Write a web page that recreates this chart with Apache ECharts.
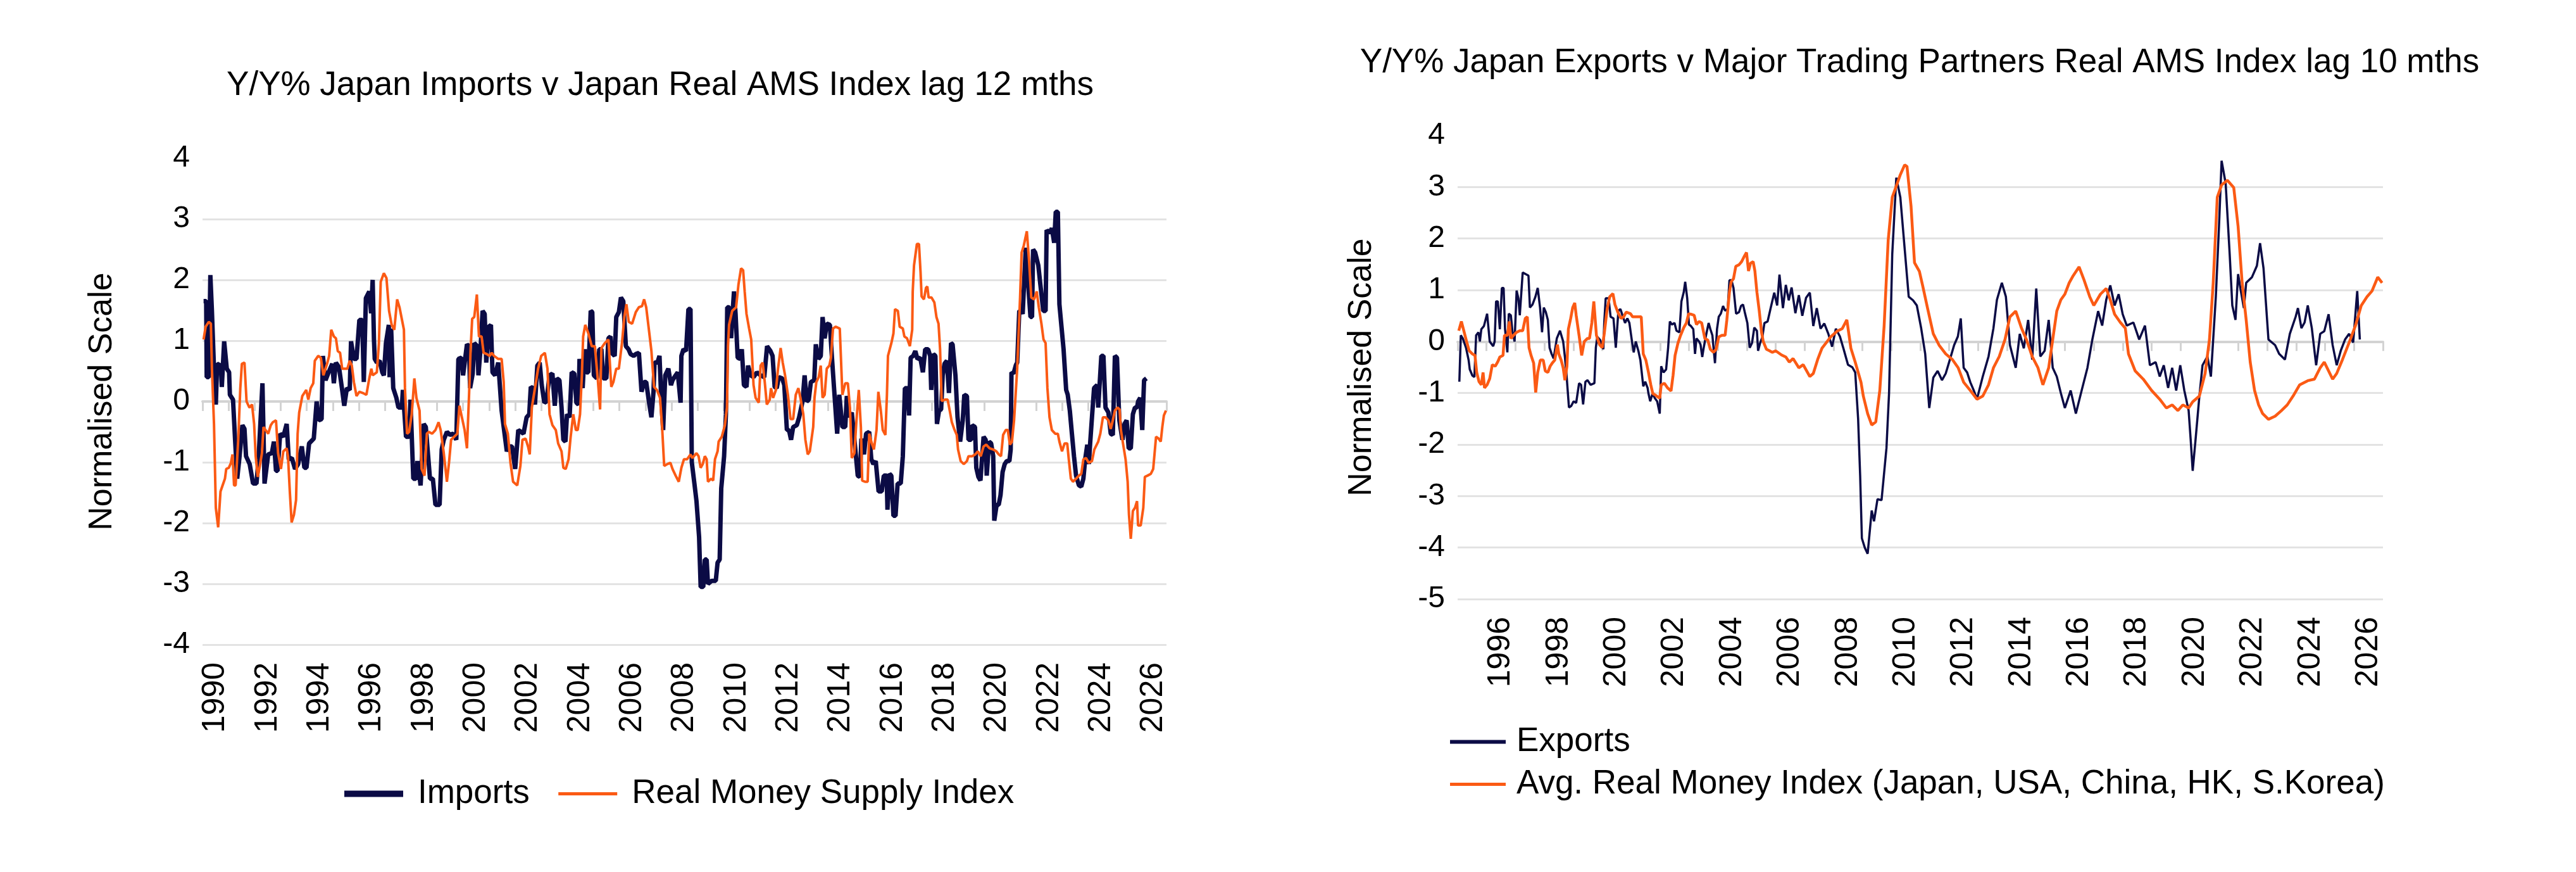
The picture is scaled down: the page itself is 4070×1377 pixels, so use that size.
<!DOCTYPE html>
<html>
<head>
<meta charset="utf-8">
<script src="https://cdn.jsdelivr.net/npm/echarts@6/dist/echarts.min.js"></script>
<style>
  html, body { margin: 0; padding: 0; background: #fff; }
  #chart { width: 4070px; height: 1377px; }
</style>
</head>
<body>
<div id="chart"></div>
<script>
// values: [year, normalised value]
var imports = [[1990.04,1.65],[1990.14,1.65],[1990.16,0.40],[1990.24,0.40],[1990.30,2.08],[1990.36,1.49],[1990.44,0.54],[1990.51,-0.05],[1990.56,0.62],[1990.70,0.59],[1990.74,0.24],[1990.83,0.99],[1990.93,0.54],[1991.02,0.48],[1991.05,0.11],[1991.17,0.03],[1991.25,-0.63],[1991.33,-1.27],[1991.41,-0.95],[1991.53,-0.39],[1991.61,-0.45],[1991.67,-0.90],[1991.81,-1.03],[1991.94,-1.35],[1992.07,-1.35],[1992.15,-0.95],[1992.30,0.30],[1992.38,-1.35],[1992.52,-0.87],[1992.66,-0.85],[1992.74,-0.66],[1992.82,-1.14],[1992.88,-1.14],[1992.98,-0.53],[1993.10,-0.58],[1993.23,-0.37],[1993.31,-0.95],[1993.43,-0.93],[1993.55,-1.11],[1993.67,-1.03],[1993.81,-0.74],[1993.91,-1.09],[1993.99,-1.09],[1994.09,-0.69],[1994.27,-0.61],[1994.38,0.0],[1994.46,-0.31],[1994.57,-0.29],[1994.62,0.75],[1994.72,0.35],[1994.84,0.48],[1994.98,0.62],[1995.04,0.30],[1995.12,0.64],[1995.24,0.56],[1995.35,0.22],[1995.44,-0.07],[1995.54,0.22],[1995.65,0.19],[1995.70,0.99],[1995.81,0.70],[1995.91,0.70],[1996.02,1.34],[1996.13,1.34],[1996.19,0.32],[1996.27,1.70],[1996.40,1.81],[1996.47,1.45],[1996.53,2.0],[1996.58,1.02],[1996.61,0.70],[1996.69,0.64],[1996.80,0.67],[1996.90,0.48],[1996.96,0.43],[1997.04,0.96],[1997.15,1.26],[1997.18,0.40],[1997.24,1.20],[1997.32,0.22],[1997.44,0.06],[1997.52,-0.10],[1997.65,-0.10],[1997.69,0.19],[1997.81,-0.58],[1997.93,-0.58],[1997.98,0.03],[1998.09,-1.27],[1998.19,-1.27],[1998.25,-0.98],[1998.37,-1.38],[1998.49,-0.37],[1998.57,-0.42],[1998.73,-1.27],[1998.84,-1.27],[1998.94,-1.70],[1999.10,-1.70],[1999.18,-0.79],[1999.26,-0.63],[1999.38,-0.50],[1999.50,-0.55],[1999.62,-0.53],[1999.74,-0.63],[1999.82,0.70],[1999.94,0.72],[2000.0,0.43],[2000.15,0.94],[2000.23,0.91],[2000.27,0.22],[2000.37,0.46],[2000.43,0.96],[2000.55,0.91],[2000.59,0.43],[2000.67,0.86],[2000.75,1.49],[2000.83,1.44],[2000.89,0.64],[2000.99,1.23],[2001.07,1.26],[2001.13,0.48],[2001.23,0.43],[2001.35,0.64],[2001.48,-0.15],[2001.56,-0.42],[2001.68,-0.82],[2001.76,-0.74],[2001.88,-0.74],[2002.0,-1.11],[2002.12,-0.47],[2002.23,-0.50],[2002.32,-0.53],[2002.44,-0.26],[2002.54,-0.21],[2002.60,0.24],[2002.68,0.22],[2002.76,-0.05],[2002.85,0.59],[2002.94,0.64],[2003.02,0.27],[2003.12,-0.02],[2003.20,0.0],[2003.32,0.43],[2003.43,0.46],[2003.52,-0.07],[2003.60,0.38],[2003.70,0.35],[2003.78,-0.10],[2003.85,-0.63],[2003.93,-0.66],[2003.99,-0.21],[2004.09,-0.26],[2004.17,0.48],[2004.27,0.46],[2004.35,-0.02],[2004.43,-0.05],[2004.47,0.70],[2004.51,0.70],[2004.59,0.22],[2004.67,0.86],[2004.73,0.48],[2004.81,0.48],[2004.90,1.49],[2004.96,1.47],[2005.02,0.43],[2005.14,0.38],[2005.23,0.86],[2005.31,0.86],[2005.38,0.38],[2005.50,0.38],[2005.58,1.04],[2005.66,1.07],[2005.70,0.80],[2005.82,0.75],[2005.88,1.39],[2005.98,1.47],[2006.06,1.71],[2006.15,1.65],[2006.25,0.91],[2006.35,0.86],[2006.43,0.78],[2006.55,0.75],[2006.63,0.78],[2006.75,0.80],[2006.85,0.16],[2006.95,0.32],[2007.03,0.32],[2007.15,-0.05],[2007.23,-0.26],[2007.31,0.16],[2007.35,0.64],[2007.46,0.64],[2007.54,0.75],[2007.60,0.11],[2007.68,-0.47],[2007.76,0.43],[2007.88,0.54],[2007.98,0.27],[2008.04,0.35],[2008.16,0.43],[2008.24,0.48],[2008.35,-0.02],[2008.38,0.75],[2008.46,0.86],[2008.56,0.83],[2008.65,1.52],[2008.73,1.52],[2008.78,-1.0],[2008.88,-1.35],[2008.96,-1.64],[2009.06,-2.23],[2009.12,-3.05],[2009.22,-3.05],[2009.28,-2.60],[2009.35,-2.60],[2009.40,-3.00],[2009.54,-2.95],[2009.70,-2.95],[2009.77,-2.65],[2009.85,-2.60],[2009.91,-1.43],[2010.02,-0.90],[2010.09,-0.21],[2010.14,1.55],[2010.22,1.55],[2010.29,1.04],[2010.35,1.49],[2010.40,1.81],[2010.46,1.44],[2010.54,0.72],[2010.64,0.70],[2010.70,0.86],[2010.78,0.27],[2010.88,0.24],[2010.94,0.59],[2011.04,0.43],[2011.15,0.40],[2011.28,0.48],[2011.42,0.43],[2011.56,0.40],[2011.67,0.91],[2011.80,0.83],[2011.88,0.75],[2011.96,0.24],[2012.04,0.22],[2012.12,0.40],[2012.25,0.38],[2012.33,0.27],[2012.43,-0.47],[2012.51,-0.47],[2012.59,-0.63],[2012.67,-0.42],[2012.81,-0.39],[2012.90,-0.26],[2013.03,0.0],[2013.11,0.43],[2013.19,0.0],[2013.27,0.03],[2013.35,0.32],[2013.48,0.35],[2013.54,0.94],[2013.64,0.70],[2013.73,0.75],[2013.80,1.39],[2013.88,1.04],[2013.96,1.28],[2014.08,1.26],[2014.16,0.72],[2014.24,0.22],[2014.36,-0.53],[2014.44,0.11],[2014.56,-0.42],[2014.67,-0.42],[2014.73,0.09],[2014.85,-0.26],[2014.92,-0.18],[2015.0,-0.53],[2015.15,-1.22],[2015.23,-1.24],[2015.29,-0.61],[2015.39,-0.87],[2015.47,-0.53],[2015.59,-0.50],[2015.67,-0.95],[2015.75,-1.03],[2015.84,-0.98],[2015.95,-1.48],[2016.07,-1.48],[2016.15,-1.22],[2016.26,-1.22],[2016.29,-1.78],[2016.37,-1.19],[2016.44,-1.22],[2016.52,-1.88],[2016.60,-1.88],[2016.68,-1.35],[2016.80,-1.35],[2016.88,-0.90],[2016.96,0.22],[2017.06,0.22],[2017.12,-0.23],[2017.18,0.72],[2017.28,0.75],[2017.36,0.83],[2017.44,0.70],[2017.55,0.72],[2017.65,0.48],[2017.74,0.86],[2017.85,0.86],[2017.93,0.75],[2017.97,0.19],[2018.05,0.78],[2018.13,0.75],[2018.19,-0.37],[2018.27,-0.15],[2018.35,-0.13],[2018.41,0.43],[2018.48,0.62],[2018.57,0.67],[2018.65,0.14],[2018.73,0.96],[2018.79,0.94],[2018.90,0.43],[2018.98,-0.26],[2019.08,-0.66],[2019.18,-0.31],[2019.24,0.11],[2019.34,0.09],[2019.40,-0.63],[2019.50,-0.63],[2019.54,-0.39],[2019.65,-0.42],[2019.70,-1.09],[2019.78,-1.24],[2019.86,-1.30],[2019.98,-0.58],[2020.06,-0.63],[2020.10,-1.22],[2020.19,-0.66],[2020.27,-0.69],[2020.35,-0.90],[2020.39,-1.96],[2020.48,-1.70],[2020.56,-1.70],[2020.63,-1.54],[2020.71,-1.16],[2020.79,-1.03],[2020.87,-0.98],[2020.97,-0.98],[2021.02,-0.79],[2021.05,0.48],[2021.13,0.46],[2021.22,0.60],[2021.27,0.64],[2021.35,1.49],[2021.44,1.49],[2021.48,1.44],[2021.60,2.53],[2021.68,2.0],[2021.78,1.39],[2021.84,1.39],[2021.88,2.50],[2021.96,2.45],[2022.08,2.24],[2022.16,1.92],[2022.27,1.49],[2022.36,1.49],[2022.40,2.82],[2022.51,2.77],[2022.60,2.85],[2022.69,2.61],[2022.75,3.12],[2022.83,3.12],[2022.89,1.60],[2022.97,1.23],[2023.05,0.86],[2023.15,0.19],[2023.21,0.11],[2023.29,-0.15],[2023.37,-0.53],[2023.45,-0.90],[2023.53,-1.22],[2023.64,-1.38],[2023.73,-1.40],[2023.81,-1.27],[2023.88,-0.95],[2023.96,-0.71],[2024.02,-1.03],[2024.07,-0.69],[2024.14,-0.26],[2024.22,0.22],[2024.34,0.27],[2024.38,-0.10],[2024.50,0.75],[2024.58,0.75],[2024.66,-0.10],[2024.77,-0.18],[2024.86,-0.53],[2024.94,-0.55],[2025.02,0.75],[2025.10,0.72],[2025.19,-0.31],[2025.31,-0.63],[2025.39,-0.37],[2025.47,-0.31],[2025.55,-0.77],[2025.63,-0.77],[2025.71,-0.21],[2025.79,-0.10],[2025.87,-0.10],[2025.91,0.0],[2025.99,0.06],[2026.07,-0.47],[2026.14,0.35],[2026.23,0.38]];

var realMoney = [[1990.04,1.02],[1990.12,1.23],[1990.24,1.31],[1990.32,1.28],[1990.36,0.54],[1990.44,-0.37],[1990.51,-1.75],[1990.60,-2.07],[1990.69,-1.48],[1990.77,-1.38],[1990.86,-1.27],[1990.91,-1.11],[1991.01,-1.09],[1991.09,-1.01],[1991.15,-0.87],[1991.21,-1.38],[1991.27,-1.38],[1991.37,-0.63],[1991.45,0.22],[1991.51,0.62],[1991.61,0.64],[1991.69,0.0],[1991.80,-0.10],[1991.90,-0.05],[1991.98,-0.37],[1992.04,-0.90],[1992.12,-1.24],[1992.20,-1.06],[1992.28,-0.85],[1992.34,-0.42],[1992.42,-0.47],[1992.52,-0.53],[1992.62,-0.39],[1992.70,-0.34],[1992.82,-0.31],[1992.90,-0.85],[1993.01,-1.11],[1993.10,-0.82],[1993.23,-0.77],[1993.28,-0.90],[1993.35,-1.48],[1993.42,-1.99],[1993.51,-1.86],[1993.59,-1.62],[1993.65,-0.53],[1993.71,-0.18],[1993.83,0.09],[1993.98,0.19],[1994.06,0.03],[1994.15,0.22],[1994.25,0.30],[1994.31,0.67],[1994.44,0.75],[1994.54,0.72],[1994.64,0.43],[1994.78,0.62],[1994.86,0.75],[1994.94,1.18],[1995.04,1.07],[1995.12,1.04],[1995.19,0.83],[1995.28,0.80],[1995.36,0.54],[1995.44,0.54],[1995.56,0.54],[1995.65,0.67],[1995.73,0.59],[1995.81,0.32],[1995.91,0.09],[1996.02,0.16],[1996.15,0.14],[1996.29,0.11],[1996.40,0.38],[1996.48,0.54],[1996.53,0.43],[1996.69,0.48],[1996.77,0.96],[1996.84,1.97],[1996.96,2.11],[1997.06,2.03],[1997.16,1.49],[1997.26,1.26],[1997.36,1.18],[1997.47,1.68],[1997.56,1.55],[1997.73,1.18],[1997.77,0.22],[1997.85,-0.53],[1997.93,-0.50],[1998.03,-0.21],[1998.13,0.38],[1998.21,0.06],[1998.33,-0.15],[1998.41,-1.11],[1998.52,-1.22],[1998.61,-0.53],[1998.69,-0.50],[1998.81,-0.53],[1998.94,-0.47],[1999.06,-0.34],[1999.14,-0.47],[1999.26,-0.85],[1999.38,-1.32],[1999.46,-1.01],[1999.54,-0.63],[1999.66,-0.58],[1999.78,-0.53],[1999.86,-0.07],[1999.94,-0.23],[2000.06,-0.47],[2000.15,-0.77],[2000.23,0.11],[2000.29,0.86],[2000.35,1.36],[2000.43,1.39],[2000.53,1.76],[2000.61,1.07],[2000.71,1.07],[2000.79,0.80],[2000.91,0.78],[2001.02,0.75],[2001.10,0.80],[2001.19,0.75],[2001.35,0.70],[2001.48,0.70],[2001.56,0.32],[2001.61,-0.37],[2001.72,-0.53],[2001.82,-1.01],[2001.92,-1.32],[2002.08,-1.38],[2002.20,-1.06],[2002.28,-0.63],[2002.40,-0.61],[2002.50,-0.75],[2002.56,-0.87],[2002.64,-0.10],[2002.76,0.22],[2002.88,0.54],[2003.0,0.75],[2003.14,0.80],[2003.24,0.54],[2003.32,-0.21],[2003.43,-0.39],[2003.56,-0.47],[2003.65,-0.69],[2003.78,-0.82],[2003.85,-1.09],[2003.94,-1.11],[2004.05,-0.95],[2004.13,-0.58],[2004.23,-0.21],[2004.33,-0.47],[2004.40,-0.47],[2004.49,-0.21],[2004.56,0.43],[2004.61,1.07],[2004.69,1.26],[2004.81,1.12],[2004.94,0.91],[2005.06,0.91],[2005.18,0.32],[2005.26,-0.13],[2005.31,0.88],[2005.44,0.96],[2005.58,1.02],[2005.69,0.24],[2005.77,0.32],[2005.88,0.54],[2005.98,0.54],[2006.10,0.96],[2006.19,1.39],[2006.27,1.60],[2006.36,1.31],[2006.49,1.28],[2006.63,1.47],[2006.75,1.55],[2006.87,1.57],[2006.95,1.68],[2007.03,1.55],[2007.15,1.12],[2007.23,0.83],[2007.33,0.24],[2007.44,0.19],[2007.56,0.06],[2007.64,-0.42],[2007.72,-1.06],[2007.84,-1.03],[2007.96,-1.01],[2008.04,-1.11],[2008.16,-1.22],[2008.28,-1.32],[2008.38,-1.09],[2008.48,-0.95],[2008.60,-0.95],[2008.73,-0.87],[2008.80,-0.93],[2008.96,-0.85],[2009.04,-0.90],[2009.12,-1.09],[2009.20,-1.03],[2009.28,-0.90],[2009.35,-0.95],[2009.40,-1.32],[2009.52,-1.27],[2009.60,-1.30],[2009.67,-0.95],[2009.77,-0.82],[2009.81,-0.66],[2009.93,-0.58],[2010.05,-0.39],[2010.13,-0.10],[2010.17,0.91],[2010.21,1.26],[2010.33,1.49],[2010.48,1.55],[2010.57,1.92],[2010.67,2.19],[2010.75,2.16],[2010.81,1.81],[2010.88,1.44],[2010.98,1.20],[2011.06,1.02],[2011.15,0.27],[2011.23,0.06],[2011.35,-0.02],[2011.42,0.59],[2011.50,0.64],[2011.58,0.32],[2011.66,-0.05],[2011.77,0.03],[2011.82,0.22],[2011.90,0.06],[2012.01,0.19],[2012.09,0.54],[2012.19,0.88],[2012.27,0.64],[2012.36,0.43],[2012.47,0.11],[2012.57,-0.29],[2012.67,-0.29],[2012.77,0.11],[2012.87,0.22],[2012.95,0.06],[2013.06,-0.21],[2013.14,-0.63],[2013.23,-0.87],[2013.31,-0.82],[2013.44,-0.42],[2013.49,0.06],[2013.56,0.32],[2013.65,0.40],[2013.73,0.59],[2013.80,0.06],[2013.88,0.11],[2013.96,0.54],[2014.06,0.59],[2014.12,0.72],[2014.20,1.20],[2014.30,1.23],[2014.46,1.20],[2014.56,0.11],[2014.67,0.30],[2014.77,0.30],[2014.85,-0.10],[2014.92,-0.93],[2015.02,-0.85],[2015.10,-0.31],[2015.19,0.19],[2015.27,-0.42],[2015.32,-1.30],[2015.43,-1.32],[2015.53,-1.32],[2015.59,-0.53],[2015.69,-0.69],[2015.77,-0.79],[2015.87,-0.47],[2015.94,0.16],[2016.03,-0.13],[2016.11,-0.47],[2016.21,-0.55],[2016.27,0.11],[2016.31,0.75],[2016.44,0.96],[2016.52,1.12],[2016.58,1.52],[2016.69,1.49],[2016.76,1.23],[2016.88,1.20],[2016.94,1.07],[2017.04,1.04],[2017.15,0.91],[2017.24,1.18],[2017.26,1.81],[2017.31,2.24],[2017.42,2.59],[2017.50,2.59],[2017.56,2.13],[2017.60,1.73],[2017.69,1.68],[2017.77,1.87],[2017.82,1.89],[2017.87,1.71],[2017.98,1.71],[2018.09,1.63],[2018.17,1.39],[2018.25,1.28],[2018.31,0.86],[2018.37,0.01],[2018.49,0.03],[2018.60,0.03],[2018.68,-0.15],[2018.76,-0.34],[2018.85,-0.45],[2018.95,-0.55],[2019.0,-0.79],[2019.10,-0.98],[2019.22,-1.03],[2019.34,-0.98],[2019.40,-0.90],[2019.54,-0.90],[2019.66,-0.87],[2019.76,-0.82],[2019.87,-0.90],[2019.98,-0.74],[2020.08,-0.71],[2020.21,-0.77],[2020.35,-0.79],[2020.47,-0.82],[2020.56,-0.87],[2020.65,-0.90],[2020.73,-0.55],[2020.83,-0.47],[2020.91,-0.47],[2020.99,-0.71],[2021.07,-0.66],[2021.15,-0.31],[2021.27,0.54],[2021.38,1.71],[2021.44,2.45],[2021.52,2.56],[2021.64,2.80],[2021.72,2.35],[2021.81,1.71],[2021.92,1.68],[2022.02,1.81],[2022.10,1.55],[2022.20,1.28],[2022.28,1.02],[2022.36,0.96],[2022.43,0.22],[2022.51,-0.26],[2022.60,-0.47],[2022.73,-0.53],[2022.83,-0.53],[2022.89,-0.66],[2022.99,-0.82],[2023.09,-0.69],[2023.19,-0.69],[2023.25,-0.95],[2023.33,-1.27],[2023.41,-1.32],[2023.53,-1.27],[2023.64,-1.22],[2023.73,-1.19],[2023.81,-0.95],[2023.91,-0.93],[2024.02,-1.01],[2024.14,-0.98],[2024.23,-0.79],[2024.38,-0.66],[2024.46,-0.53],[2024.56,-0.26],[2024.66,-0.26],[2024.77,-0.31],[2024.86,-0.45],[2024.94,-0.31],[2025.02,-0.15],[2025.12,-0.10],[2025.20,-0.13],[2025.25,-0.47],[2025.35,-0.74],[2025.43,-0.95],[2025.51,-1.32],[2025.56,-1.86],[2025.63,-2.26],[2025.71,-1.80],[2025.79,-1.75],[2025.87,-1.64],[2025.91,-2.04],[2026.01,-2.04],[2026.11,-1.75],[2026.17,-1.24],[2026.27,-1.22],[2026.40,-1.19],[2026.49,-1.11],[2026.60,-0.58],[2026.70,-0.61],[2026.78,-0.66],[2026.84,-0.42],[2026.90,-0.23],[2026.98,-0.15]];

var exportsJp = [[1995.06,-0.78],[1995.11,0.12],[1995.18,0.06],[1995.29,-0.12],[1995.38,-0.36],[1995.42,-0.54],[1995.51,-0.66],[1995.58,-0.69],[1995.64,0.12],[1995.72,0.18],[1995.77,0.0],[1995.82,0.24],[1995.91,0.30],[1996.02,0.54],[1996.11,0.0],[1996.23,-0.09],[1996.28,0.0],[1996.33,0.78],[1996.39,0.78],[1996.46,0.24],[1996.53,1.04],[1996.59,1.04],[1996.64,0.24],[1996.72,-0.21],[1996.77,0.54],[1996.84,0.51],[1996.90,0.18],[1996.97,0.0],[1997.04,0.99],[1997.10,0.84],[1997.15,0.51],[1997.25,1.34],[1997.35,1.31],[1997.45,1.28],[1997.50,0.66],[1997.59,0.72],[1997.69,0.87],[1997.77,1.04],[1997.85,0.66],[1997.92,0.18],[1997.98,0.66],[1998.05,0.57],[1998.12,0.42],[1998.18,-0.12],[1998.25,-0.24],[1998.32,-0.33],[1998.43,0.06],[1998.54,0.21],[1998.65,0.0],[1998.71,-0.30],[1998.76,-0.60],[1998.85,-1.28],[1998.93,-1.25],[1999.01,-1.16],[1999.10,-1.19],[1999.20,-0.81],[1999.27,-0.84],[1999.34,-1.22],[1999.42,-0.78],[1999.49,-0.75],[1999.60,-0.84],[1999.73,-0.81],[1999.78,-0.12],[1999.83,0.09],[1999.93,0.03],[2000.04,-0.15],[2000.07,0.36],[2000.12,0.84],[2000.22,0.84],[2000.29,0.48],[2000.39,0.45],[2000.47,-0.12],[2000.56,0.60],[2000.63,0.63],[2000.70,0.51],[2000.79,0.36],[2000.87,0.45],[2000.94,0.36],[2001.03,0.0],[2001.09,-0.21],[2001.16,0.0],[2001.25,-0.18],[2001.32,-0.36],[2001.42,-0.87],[2001.49,-0.78],[2001.57,-0.90],[2001.60,-1.01],[2001.66,-1.16],[2001.74,-1.01],[2001.82,-1.10],[2001.90,-1.16],[2001.99,-1.40],[2002.04,-0.48],[2002.12,-0.60],[2002.21,-0.54],[2002.28,-0.12],[2002.34,0.39],[2002.41,0.33],[2002.50,0.36],[2002.57,0.21],[2002.67,0.18],[2002.74,0.78],[2002.82,0.96],[2002.87,1.16],[2002.94,0.84],[2003.0,0.33],[2003.07,0.30],[2003.15,0.24],[2003.21,-0.24],[2003.26,0.06],[2003.35,0.0],[2003.40,-0.06],[2003.46,-0.30],[2003.51,-0.12],[2003.59,0.12],[2003.68,0.36],[2003.74,0.24],[2003.81,0.12],[2003.90,-0.42],[2003.97,0.24],[2004.03,0.48],[2004.10,0.54],[2004.18,0.69],[2004.25,0.60],[2004.34,0.63],[2004.40,1.19],[2004.47,1.19],[2004.54,1.04],[2004.63,0.54],[2004.73,0.57],[2004.80,0.69],[2004.87,0.72],[2004.93,0.57],[2005.02,0.36],[2005.10,-0.12],[2005.18,-0.03],[2005.26,0.27],[2005.35,0.21],[2005.39,-0.18],[2005.46,-0.03],[2005.54,0.09],[2005.61,0.36],[2005.72,0.39],[2005.83,0.66],[2005.95,0.95],[2006.05,0.70],[2006.13,1.30],[2006.25,0.65],[2006.35,1.10],[2006.45,0.80],[2006.55,1.05],[2006.68,0.55],[2006.80,0.90],[2006.92,0.50],[2007.05,0.85],[2007.18,0.95],[2007.30,0.30],[2007.42,0.65],[2007.55,0.25],[2007.68,0.35],[2007.82,0.15],[2007.95,-0.10],[2008.08,0.25],[2008.22,0.10],[2008.35,-0.15],[2008.50,-0.45],[2008.65,-0.50],[2008.75,-0.60],[2008.85,-1.5],[2008.92,-2.6],[2008.98,-3.82],[2009.08,-4.00],[2009.18,-4.12],[2009.32,-3.28],[2009.40,-3.49],[2009.52,-3.06],[2009.66,-3.08],[2009.83,-2.07],[2009.92,-1.0],[2010.03,1.69],[2010.17,3.18],[2010.31,2.80],[2010.46,1.80],[2010.60,0.87],[2010.75,0.80],[2010.88,0.70],[2011.03,0.26],[2011.17,-0.24],[2011.31,-1.29],[2011.45,-0.70],[2011.60,-0.57],[2011.75,-0.75],[2011.88,-0.62],[2012.05,-0.30],[2012.17,-0.07],[2012.30,0.10],[2012.40,0.45],[2012.50,-0.51],[2012.62,-0.60],[2012.73,-0.79],[2012.85,-0.95],[2012.96,-1.12],[2013.16,-0.68],[2013.36,-0.29],[2013.53,0.26],[2013.65,0.81],[2013.82,1.14],[2013.96,0.87],[2014.10,-0.07],[2014.30,-0.51],[2014.44,0.15],[2014.58,-0.13],[2014.73,0.42],[2014.87,-0.35],[2015.01,1.03],[2015.15,-0.29],[2015.30,-0.18],[2015.44,0.42],[2015.58,-0.51],[2015.72,-0.68],[2015.86,-1.00],[2016.00,-1.29],[2016.20,-0.95],[2016.38,-1.40],[2016.58,-0.95],[2016.78,-0.51],[2016.95,0.04],[2017.15,0.59],[2017.29,0.31],[2017.43,0.81],[2017.57,1.09],[2017.72,0.70],[2017.86,0.92],[2018.00,0.53],[2018.14,0.31],[2018.37,0.37],[2018.57,0.04],[2018.77,0.31],[2018.94,-0.46],[2019.14,-0.40],[2019.28,-0.68],[2019.42,-0.46],[2019.57,-0.90],[2019.71,-0.51],[2019.85,-0.95],[2019.99,-0.46],[2020.13,-0.95],[2020.28,-1.34],[2020.35,-1.90],[2020.42,-2.51],[2020.52,-1.90],[2020.65,-1.07],[2020.76,-0.46],[2020.93,-0.29],[2021.05,-0.68],[2021.22,0.87],[2021.33,2.24],[2021.42,3.51],[2021.56,3.07],[2021.70,1.69],[2021.79,0.70],[2021.90,0.42],[2021.99,1.31],[2022.07,1.03],[2022.19,0.65],[2022.27,1.14],[2022.47,1.25],[2022.64,1.47],[2022.75,1.91],[2022.87,1.42],[2023.04,0.04],[2023.27,-0.07],[2023.41,-0.24],[2023.61,-0.35],[2023.78,0.15],[2023.98,0.48],[2024.06,0.65],[2024.18,0.26],[2024.29,0.37],[2024.40,0.70],[2024.54,0.26],[2024.69,-0.46],[2024.83,0.15],[2024.97,0.20],[2025.12,0.53],[2025.26,-0.07],[2025.40,-0.46],[2025.54,-0.18],[2025.69,0.04],[2025.83,0.15],[2025.97,-0.02],[2026.11,0.98],[2026.20,0.04]];

var avgMoney = [[1995.04,0.21],[1995.13,0.39],[1995.20,0.24],[1995.31,0.0],[1995.40,-0.18],[1995.51,-0.24],[1995.60,-0.27],[1995.66,-0.60],[1995.74,-0.78],[1995.82,-0.84],[1995.88,-0.60],[1995.93,-0.90],[1996.02,-0.84],[1996.11,-0.72],[1996.20,-0.45],[1996.30,-0.48],[1996.39,-0.39],[1996.46,-0.30],[1996.57,-0.27],[1996.62,0.12],[1996.72,0.12],[1996.79,0.39],[1996.84,0.06],[1996.93,0.12],[1997.04,0.18],[1997.15,0.21],[1997.25,0.21],[1997.34,0.45],[1997.41,0.48],[1997.47,-0.12],[1997.54,-0.27],[1997.63,-0.42],[1997.70,-0.99],[1997.77,-0.60],[1997.86,-0.36],[1997.96,-0.36],[1998.03,-0.57],[1998.12,-0.60],[1998.20,-0.48],[1998.27,-0.42],[1998.36,-0.36],[1998.45,-0.06],[1998.50,-0.24],[1998.58,-0.36],[1998.65,-0.51],[1998.71,-0.75],[1998.78,-0.48],[1998.83,0.24],[1998.91,0.45],[1998.98,0.66],[1999.05,0.75],[1999.10,0.51],[1999.20,0.12],[1999.29,-0.27],[1999.38,0.0],[1999.49,0.06],[1999.56,0.06],[1999.64,0.36],[1999.71,0.78],[1999.80,0.12],[1999.91,-0.06],[2000.0,-0.12],[2000.07,0.15],[2000.17,0.63],[2000.26,0.87],[2000.37,0.93],[2000.44,0.72],[2000.54,0.57],[2000.65,0.45],[2000.74,0.48],[2000.83,0.57],[2000.98,0.54],[2001.05,0.48],[2001.18,0.48],[2001.35,0.48],[2001.42,-0.24],[2001.51,-0.36],[2001.60,-0.60],[2001.68,-0.84],[2001.75,-1.01],[2001.84,-1.04],[2001.91,-1.07],[2001.99,-1.10],[2002.04,-0.84],[2002.15,-0.81],[2002.26,-0.90],[2002.38,-0.96],[2002.45,-0.66],[2002.52,-0.27],[2002.62,-0.03],[2002.71,0.12],[2002.82,0.27],[2002.91,0.36],[2002.99,0.54],[2003.07,0.53],[2003.18,0.51],[2003.26,0.33],[2003.35,0.39],[2003.44,0.36],[2003.55,0.06],[2003.65,0.03],[2003.74,-0.15],[2003.85,-0.21],[2003.94,-0.15],[2004.03,0.09],[2004.14,0.12],[2004.25,0.12],[2004.31,0.42],[2004.40,0.96],[2004.46,1.16],[2004.54,1.22],[2004.62,1.46],[2004.73,1.49],[2004.82,1.55],[2004.90,1.64],[2004.99,1.73],[2005.06,1.37],[2005.13,1.52],[2005.22,1.55],[2005.28,1.37],[2005.35,0.96],[2005.43,0.60],[2005.51,0.18],[2005.57,0.0],[2005.68,-0.15],[2005.79,-0.18],[2005.88,-0.21],[2006.0,-0.18],[2006.2,-0.26],[2006.35,-0.30],[2006.47,-0.40],[2006.6,-0.33],[2006.8,-0.51],[2006.95,-0.45],[2007.18,-0.68],[2007.3,-0.62],[2007.45,-0.35],[2007.6,-0.13],[2007.9,0.09],[2008.12,0.20],[2008.3,0.25],[2008.46,0.42],[2008.6,-0.13],[2008.75,-0.40],[2008.95,-0.79],[2009.03,-1.06],[2009.18,-1.40],[2009.32,-1.62],[2009.46,-1.56],[2009.6,-0.95],[2009.75,0.31],[2009.89,1.97],[2010.03,2.80],[2010.17,3.02],[2010.31,3.24],[2010.46,3.43],[2010.54,3.40],[2010.68,2.63],[2010.80,1.53],[2010.97,1.36],[2011.08,1.09],[2011.25,0.65],[2011.45,0.15],[2011.65,-0.07],[2011.88,-0.24],[2012.11,-0.35],[2012.31,-0.51],[2012.50,-0.79],[2012.73,-0.95],[2012.96,-1.12],[2013.16,-1.06],[2013.36,-0.84],[2013.53,-0.51],[2013.73,-0.29],[2013.93,0.04],[2014.10,0.48],[2014.30,0.59],[2014.50,0.26],[2014.67,0.04],[2014.87,-0.29],[2015.07,-0.51],[2015.24,-0.84],[2015.44,-0.51],[2015.58,0.04],[2015.72,0.59],[2015.86,0.81],[2016.00,0.92],[2016.15,1.14],[2016.29,1.28],[2016.49,1.45],[2016.66,1.20],[2016.86,0.87],[2017.00,0.70],[2017.23,0.92],[2017.43,1.03],[2017.57,0.81],[2017.72,0.53],[2017.92,0.37],[2018.09,0.26],[2018.20,-0.24],[2018.43,-0.57],[2018.71,-0.73],[2019.00,-0.95],[2019.28,-1.12],[2019.51,-1.29],[2019.71,-1.23],[2019.91,-1.34],[2020.08,-1.23],[2020.28,-1.29],[2020.42,-1.17],[2020.65,-1.06],[2020.85,-0.62],[2021.00,0.04],[2021.13,1.14],[2021.27,2.80],[2021.42,3.04],[2021.62,3.13],[2021.84,2.99],[2021.99,2.24],[2022.13,1.14],[2022.27,0.42],[2022.41,-0.40],[2022.56,-0.95],[2022.70,-1.23],[2022.84,-1.40],[2023.04,-1.51],[2023.27,-1.45],[2023.49,-1.34],[2023.69,-1.23],[2023.89,-1.06],[2024.12,-0.84],[2024.40,-0.76],[2024.63,-0.73],[2024.83,-0.51],[2024.97,-0.40],[2025.12,-0.57],[2025.26,-0.73],[2025.40,-0.62],[2025.60,-0.35],[2025.83,-0.02],[2026.05,0.31],[2026.25,0.70],[2026.45,0.87],[2026.62,0.98],[2026.82,1.25],[2026.97,1.14]];

var leftTitle = 'Y/Y% Japan Imports v Japan Real AMS Index lag 12 mths';
var rightTitle = 'Y/Y% Japan Exports v Major Trading Partners Real AMS Index lag 10 mths';
var leftNames = ['Imports', 'Real Money Supply Index'];
var rightNames = ['Exports', 'Avg. Real Money Index (Japan, USA, China, HK, S.Korea)'];

var NAVY = '#0b0b45';
var ORANGE = '#fb5a14';
var FONT = 'Liberation Sans';
var GRID_C = '#e3e3e3';
var AXIS_C = '#d3d3d3';

function yearLabel(v) {
  var y = Math.floor(v + 1e-6);
  if (Math.abs(v - y - 0.5) < 0.01 && y % 2 === 0) return String(y);
  return '';
}

function tickAxis(grid, min, max) {
  return {
    type: 'value', gridIndex: grid, position: 'bottom', min: min, max: max, interval: 1,
    axisLine: { show: true, lineStyle: { color: AXIS_C, width: 4 } },
    axisTick: { show: true, length: 15, lineStyle: { color: AXIS_C, width: 3 } },
    axisLabel: { show: false },
    splitLine: { show: false }
  };
}

function labelAxis(grid, min, max) {
  return {
    type: 'value', gridIndex: grid, position: 'bottom', min: min, max: max, interval: 0.5,
    axisLine: { show: false }, axisTick: { show: false }, splitLine: { show: false },
    axisLabel: { show: true, rotate: 90, margin: 28, fontSize: 50, fontFamily: FONT, color: '#000', formatter: yearLabel }
  };
}

function valueAxis(grid, min, max, gap) {
  var cols = [];
  for (var i = min; i <= max; i++) cols.push(i === max ? 'rgba(0,0,0,0)' : GRID_C);
  return {
    type: 'value', gridIndex: grid, min: min, max: max, interval: 1,
    name: 'Normalised Scale', nameLocation: 'middle', nameRotate: 90, nameGap: gap,
    nameTextStyle: { fontSize: 52, fontFamily: FONT, color: '#000' },
    axisLine: { show: false }, axisTick: { show: false },
    axisLabel: { fontSize: 48, fontFamily: FONT, color: '#000', margin: 20 },
    splitLine: { show: true, showMaxLine: false, lineStyle: { color: cols, width: 3 } }
  };
}

function line(name, data, xi, yi, color, width) {
  return {
    name: name, type: 'line', data: data, xAxisIndex: xi, yAxisIndex: yi,
    showSymbol: false, symbol: 'none', animation: false,
    lineStyle: { color: color, width: width }, itemStyle: { color: color }
  };
}

// legend entry: plain line, no marker
function legendItem(name, width) {
  return { name: name, lineStyle: { width: width }, itemStyle: { opacity: 0, borderWidth: 0 } };
}

var chart = echarts.init(document.getElementById('chart'));
chart.setOption({
  backgroundColor: '#fff',
  animation: false,
  title: [
    { text: leftTitle, left: 1038, top: 104, textAlign: 'center',
      textStyle: { fontSize: 53, fontWeight: 'normal', fontFamily: FONT, color: '#000' } },
    { text: rightTitle, left: 3028, top: 68, textAlign: 'center',
      textStyle: { fontSize: 53, fontWeight: 'normal', fontFamily: FONT, color: '#000' } }
  ],
  legend: [
    { data: [legendItem(leftNames[0], 10), legendItem(leftNames[1], 5)],
      orient: 'horizontal', left: 534, top: 1222, itemWidth: 93, itemHeight: 12, itemGap: 43,
      textStyle: { fontSize: 53, fontFamily: FONT, color: '#000', padding: [0, 0, 0, 18] } },
    { data: [legendItem(rightNames[0], 6), legendItem(rightNames[1], 5)],
      orient: 'vertical', left: 2283, top: 1140, itemWidth: 88, itemHeight: 12, itemGap: 14,
      textStyle: { fontSize: 53, fontFamily: FONT, color: '#000', padding: [0, 0, 0, 12] } }
  ],
  grid: [
    { left: 320, top: 250, width: 1523, height: 768 },
    { left: 2303, top: 214, width: 1462, height: 732 }
  ],
  xAxis: [
    tickAxis(0, 1990, 2027), labelAxis(0, 1990, 2027),
    tickAxis(1, 1995, 2027), labelAxis(1, 1995, 2027)
  ],
  yAxis: [
    valueAxis(0, -4, 4, 132),
    valueAxis(1, -5, 4, 125)
  ],
  series: [
    line(leftNames[0], imports, 0, 0, NAVY, 7),
    line(leftNames[1], realMoney, 0, 0, ORANGE, 4),
    line(rightNames[0], exportsJp, 2, 1, NAVY, 3.5),
    line(rightNames[1], avgMoney, 2, 1, ORANGE, 4.5)
  ]
});
</script>
</body>
</html>
